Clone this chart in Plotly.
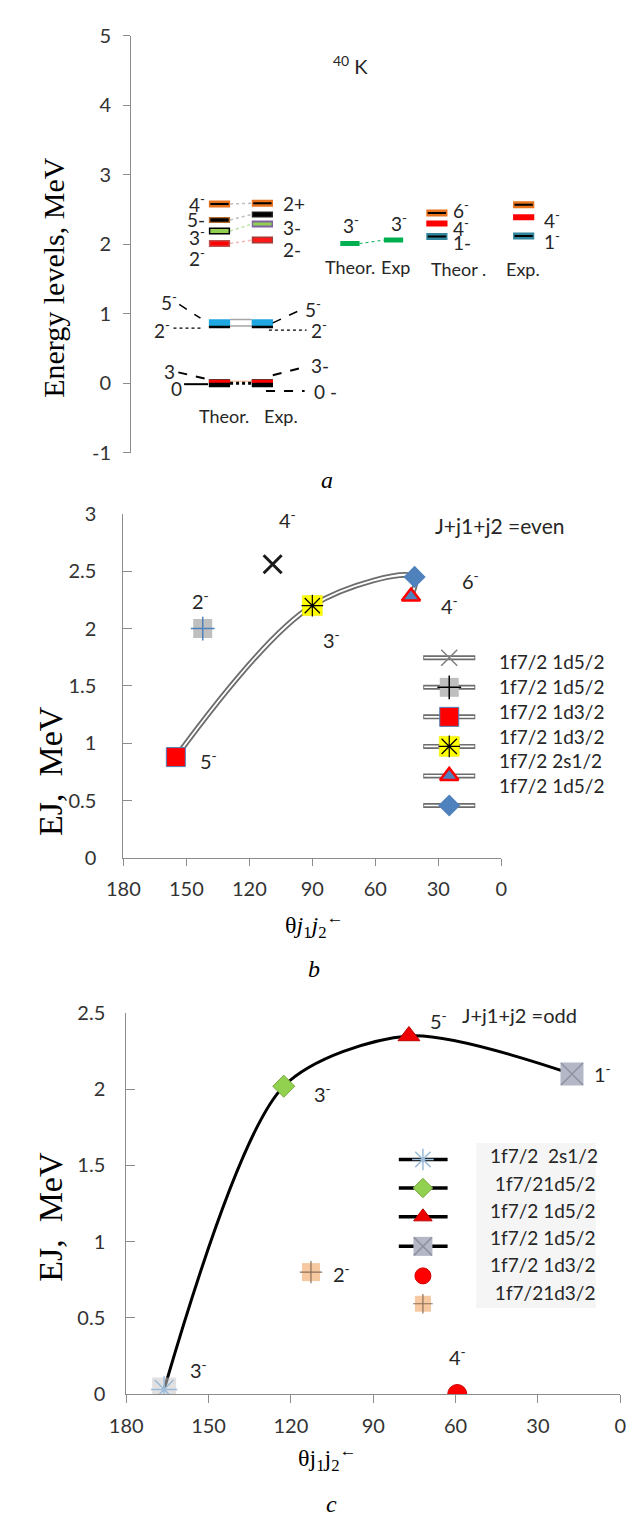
import plotly.graph_objects as go

W, H = 642, 1522
SANS = "Lato"
SERIF = "Liberation Serif"
TXT = "#262626"

# ---------------- DATA ----------------
# Panel a : 40K energy levels (MeV)
a_T1_E = [2.58, 2.35, 2.19, 2.01]          # Theor. (upper group)
a_E1_E = [2.59, 2.43, 2.29, 2.06]          # Exp.   (upper group)
a_T0_E = [0.87, 0.81, 0.00, 0.03]          # Theor. (low-lying)
a_E0_E = [0.87, 0.81, 0.00, 0.03]          # Exp.   (low-lying)
a_T2_E = [2.01]                            # Theor. 3-
a_E2_E = [2.06]                            # Exp 3-
a_T3_E = [2.45, 2.30, 2.11]                # Theor . 6-,4-,1-
a_E3_E = [2.57, 2.39, 2.12]                # Exp.  (?),4-,1-

a_T1_lab = ["4<sup>-</sup>", "5-", "3<sup>-</sup>", "2<sup>-</sup>"]
a_E1_lab = ["2+", "3-", "2-"]
a_T3_lab = ["6<sup>-</sup>", "4<sup>-</sup>", "1-"]
a_E3_lab = ["4<sup>-</sup>", "1<sup>-</sup>"]
a_yticks = [-1, 0, 1, 2, 3, 4, 5]
a_yticklabels = ["-1", "0", "1", "2", "3", "4", "5"]

# Panel b : J+j1+j2 = even
b_names = ["1f7/2 1d5/2", "1f7/2 1d5/2", "1f7/2 1d3/2", "1f7/2 1d3/2", "1f7/2 2s1/2", "1f7/2 1d5/2"]
b_theta = [108.9, 142.2, 155.0, 90.0, 43.0, 41.3]
b_E = [2.56, 2.00, 0.88, 2.20, 2.28, 2.45]
b_J = ["4<sup>-</sup>", "2<sup>-</sup>", "5<sup>-</sup>", "3<sup>-</sup>", "4<sup>-</sup>", "6<sup>-</sup>"]
b_curve_order = [2, 3, 5, 4]

# Panel c : J+j1+j2 = odd
c_names = ["1f7/2  2s1/2", " 1f7/21d5/2", "1f7/2 1d5/2", "1f7/2 1d5/2", "1f7/2 1d3/2", " 1f7/21d3/2"]
c_theta = [166.2, 122.6, 77.0, 17.6, 59.4, 112.7]
c_E = [0.03, 2.02, 2.35, 2.10, 0.00, 0.80]
c_J = ["3<sup>-</sup>", "3<sup>-</sup>", "5<sup>-</sup>", "1<sup>-</sup>", "4<sup>-</sup>", "2<sup>-</sup>"]
c_curve_order = [0, 1, 2, 3]

# ---------------- helpers ----------------
def PX(x):
    return x / W

def PY(y):
    return 1 - y / H

fig = go.Figure()


def seg(x0, x1, y0, y1, color, width, dash="solid", xa="x4", ya="y4"):
    fig.add_trace(go.Scatter(x=[x0, x1], y=[y0, y1], mode="lines",
                             line=dict(color=color, width=width, dash=dash),
                             xaxis=xa, yaxis=ya, showlegend=False, hoverinfo="skip"))


def level(xc, E, outer, ow, inner=None, iw=0, half=11):
    seg(xc - half, xc + half, E, E, outer, ow, xa="x", ya="y")
    if inner:
        seg(xc - half + 1.5, xc + half - 1.5, E, E, inner, iw, xa="x", ya="y")


def ann(x, y, text, size=20, family=SANS, xanchor="center", yanchor="middle",
        color=TXT, angle=0, xref="paper", yref="paper", **kw):
    if xref == "paper":
        x = PX(x)
    if yref == "paper":
        y = PY(y)
    fig.add_annotation(x=x, y=y, xref=xref, yref=yref, text=text, showarrow=False,
                       font=dict(family=family, size=size, color=color),
                       xanchor=xanchor, yanchor=yanchor, textangle=angle, **kw)


# ================= PANEL a =================
colx = dict(T1=201.7, E1=246.2, T2=337.0, E2=382.2, T3=427.2, E3=517.2)
ORANGE = "#e8731f"

conn_cols = ["#bfbfbf", "#bfbfbf", "#b9e3a2", "#f5b5b5"]
for i in range(4):
    seg(colx["T1"] + 11, colx["E1"] - 11, a_T1_E[i], a_E1_E[i], conn_cols[i], 1.5, "dot", "x", "y")
seg(colx["T1"] + 11, colx["E1"] - 11, a_T0_E[0], a_E0_E[0], "#a6a6a6", 8, "solid", "x", "y")
seg(colx["T1"] + 11, colx["E1"] - 11, a_T0_E[0], a_E0_E[0], "#ffffff", 5, "solid", "x", "y")
seg(colx["T1"] + 11, colx["E1"] - 11, a_T0_E[3], a_E0_E[3], "#f8cbad", 1.5, "solid", "x", "y")
seg(colx["T1"] + 11, colx["E1"] - 11, a_T0_E[2], a_E0_E[2], "#000000", 3, "dot", "x", "y")
seg(colx["T2"] + 10, colx["E2"] - 10, a_T2_E[0], a_E2_E[0], "#00b050", 1, "dot", "x", "y")

level(colx["T1"], a_T1_E[0], ORANGE, 7, "#000", 2)
level(colx["T1"], a_T1_E[1], "#b36b2e", 6, "#000", 3.5)
level(colx["T1"], a_T1_E[2], "#000", 7, "#92d050", 4)
level(colx["T1"], a_T1_E[3], "#c0504d", 7, "#ff0000", 4)
level(colx["E1"], a_E1_E[0], ORANGE, 7, "#000", 2)
level(colx["E1"], a_E1_E[1], "#262626", 6, "#000", 4)
level(colx["E1"], a_E1_E[2], "#8064a2", 7, "#92d050", 3)
level(colx["E1"], a_E1_E[3], "#a33a36", 7, "#ff1a1a", 4)
for key, arr in (("T1", a_T0_E), ("E1", a_E0_E)):
    level(colx[key], arr[0], "#1fa7e1", 7)
    level(colx[key], arr[1], "#000", 2.5)
    level(colx[key], arr[2], "#000", 8)
    level(colx[key], arr[3], "#ff0000", 3)
level(colx["T2"], a_T2_E[0], "#00b050", 5, half=10)
level(colx["E2"], a_E2_E[0], "#00b050", 5, half=10)
for key, arr in (("T3", a_T3_E), ("E3", a_E3_E)):
    level(colx[key], arr[0], ORANGE, 7, "#000", 2)
    level(colx[key], arr[1], "#ff0000", 6)
    level(colx[key], arr[2], "#31859c", 7, "#000", 2)

LS = 19
for (y, t) in zip([185, 201.7, 219, 240], a_T1_lab):
    ann(189, y, t, size=LS, xanchor="right")
for (y, t) in zip([185, 210, 231.7], a_E1_lab):
    ann(265, y, t, size=LS, xanchor="left")
for (y, t) in zip([191.7, 210, 225], a_T3_lab):
    ann(442, y, t, size=LS, xanchor="left")
for (y, t) in zip([201.7, 223.3], a_E3_lab):
    ann(536, y, t, size=LS, xanchor="left")
ann(338, 206.7, "3<sup>-</sup>", size=LS)
ann(388, 205, "3<sup>-</sup>", size=LS)
ann(160, 285, "5<sup>-</sup>", size=LS, xanchor="right")
ann(152, 313, "2<sup>-</sup>", size=LS, xanchor="right")
ann(158, 356, "3", size=LS, xanchor="right")
ann(165, 373, "0", size=LS, xanchor="right")
ann(288, 292, "5<sup>-</sup>", size=LS, xanchor="left")
ann(295, 313, "2<sup>-</sup>", size=LS, xanchor="left")
ann(295, 350, "3-", size=LS, xanchor="left")
ann(298, 376, "0 -", size=LS, xanchor="left")
seg(160, 182, 288, 302, "#000", 1.5, "dash")
seg(154, 182, 312, 312, "#000", 1.2, "dot")
seg(159, 190, 357, 364, "#000", 2, "dash")
seg(165, 190, 369, 369, "#000", 2)
seg(257, 287, 306.7, 293, "#000", 1.5, "dash")
seg(253, 292, 314, 314, "#000", 1.2, "dot")
seg(257, 288, 360, 352, "#000", 2, "dash")
seg(250, 290, 376, 376, "#000", 2, "dash")
CS = 18
ann(206.7, 401.7, "Theor.", size=CS)
ann(266, 401.7, "Exp.", size=CS)
ann(337, 250, "Theor.", size=CS)
ann(384, 250, "Exp", size=CS)
ann(450, 251.7, "Theor .", size=CS)
ann(516.7, 251.7, "Exp.", size=CS)
ann(338, 45, "<sup>40</sup> K", size=20)
ann(30, 260, "Energy levels, MeV", size=30, family=SERIF, angle=-90, color="#000")
ann(313, 466, "<i>a</i>", size=24, family=SERIF, color="#000")

# ================= PANEL b =================
bx = [b_theta[i] for i in b_curve_order]
by = [b_E[i] for i in b_curve_order]
fig.add_trace(go.Scatter(x=bx, y=by, mode="lines", line=dict(color="#6d6d6d", width=5.5, shape="spline", smoothing=1.0),
                         xaxis="x2", yaxis="y2", showlegend=False, hoverinfo="skip"))
fig.add_trace(go.Scatter(x=bx, y=by, mode="lines", line=dict(color="#ffffff", width=1.8, shape="spline", smoothing=1.0),
                         xaxis="x2", yaxis="y2", showlegend=False, hoverinfo="skip"))

b_style = [
    [("x-thin-open", 18, "#1a1a1a", "#1a1a1a", 3)],
    [("square", 19, "#bfbfbf", "#bfbfbf", 0), ("cross-thin-open", 17, "#4f81bd", "#4f81bd", 1.5)],
    [("square", 19, "#ff0000", "#4f81bd", 1)],
    [("square", 20, "#ffff00", "#e6e600", 0.5), ("asterisk-open", 18, "#000", "#000", 1.2)],
    [("triangle-up", 16, "#4f81bd", "#ff0000", 2.5)],
    [("diamond", 17, "#4f81bd", "#4f81bd", 0)],
]
b_leg_style = [
    [("x-thin-open", 16, "#7f7f7f", "#7f7f7f", 1.5)],
    [("square", 19, "#bfbfbf", "#bfbfbf", 0), ("cross-thin-open", 17, "#000", "#000", 1.5)],
    [("square", 19, "#ff0000", "#4f81bd", 1)],
    [("square", 20, "#ffff00", "#e6e600", 0.5), ("asterisk-open", 18, "#000", "#000", 1.2)],
    [("triangle-up", 16, "#4f81bd", "#ff0000", 2.5)],
    [("diamond", 17, "#4f81bd", "#4f81bd", 0)],
]


def marker_layers(xs, ys, layers, xa, ya):
    for (sym, sz, col, lc, lw) in layers:
        fig.add_trace(go.Scatter(x=xs, y=ys, mode="markers",
                                 marker=dict(symbol=sym, size=sz, color=col, line=dict(color=lc, width=lw)),
                                 xaxis=xa, yaxis=ya, showlegend=False, hoverinfo="skip"))


for i in range(6):
    marker_layers([b_theta[i]], [b_E[i]], b_style[i], "x2", "y2")

b_off = [(15, 45), (-2, 29), (33, -3), (19, -33), (38, -9), (56, -3)]
for i in range(6):
    ann(b_theta[i], b_E[i], b_J[i], xref="x2", yref="y2", xshift=b_off[i][0], yshift=b_off[i][1])

b_leg_y0, b_leg_dy = 647, 30
b_txt_y0, b_txt_dy = 651, 25.2
for i in range(6):
    yy = b_leg_y0 + i * b_leg_dy
    seg(413, 467, yy, yy, "#6d6d6d", 5)
    seg(414, 466, yy, yy, "#ffffff", 1.6)
    marker_layers([440], [yy], b_leg_style[i], "x4", "y4")
    ann(490, b_txt_y0 + i * b_txt_dy, b_names[i], size=19, xanchor="left")

ann(492, 513, "J+j1+j2 =even", size=21)
ann(27, 762, "EJ,\u00a0\u00a0MeV", size=34, family=SERIF, angle=-90, color="#000")
ann(300, 918, "θ<i>j</i><sub>1</sub><i>j</i><sub>2</sub><sup>←</sup>", size=24, family=SERIF, color="#000")
ann(300, 963, "<i>b</i>", size=24, family=SERIF, color="#000")

# ================= PANEL c =================
cx = [c_theta[i] for i in c_curve_order]
cy = [c_E[i] for i in c_curve_order]

c_style = [
    [("square", 24, "rgba(200,200,200,0.55)", "rgba(0,0,0,0)", 0), ("asterisk-open", 22, "#9bbbd9", "#9bbbd9", 1.5)],
    [("diamond", 17, "#92d050", "#7aa83f", 1)],
    [("triangle-up", 19, "#ee0000", "#c00000", 1)],
    [("square", 23, "#b4b8c6", "#b4b8c6", 0), ("x-thin-open", 22, "#8d92a3", "#8d92a3", 1.5)],
    [("circle", 19, "#ff0000", "#d00000", 1)],
    [("square", 18, "#f7c9a0", "#f7c9a0", 0), ("cross-thin-open", 16, "#8b6f5a", "#8b6f5a", 1.2)],
]
c_leg_style = [
    [("asterisk-open", 18, "#9bbbd9", "#9bbbd9", 1.5)],
    [("diamond", 15, "#92d050", "#7aa83f", 1)],
    [("triangle-up", 16, "#ee0000", "#c00000", 1)],
    [("square", 19, "#b4b8c6", "#b4b8c6", 0), ("x-thin-open", 18, "#8d92a3", "#8d92a3", 1.5)],
    [("circle", 16, "#ff0000", "#d00000", 1)],
    [("square", 16, "#f7c9a0", "#f7c9a0", 0), ("cross-thin-open", 14, "#8b6f5a", "#8b6f5a", 1.2)],
]

fig.add_shape(type="rect", xref="paper", yref="paper", x0=PX(468), x1=PX(592), y0=PY(1140), y1=PY(1308),
              fillcolor="#f5f5f5", line=dict(width=0), layer="below")

fig.add_trace(go.Scatter(x=cx, y=cy, mode="lines", line=dict(color="#000", width=3, shape="spline", smoothing=0.8),
                         xaxis="x3", yaxis="y3", showlegend=False, hoverinfo="skip"))
for i in range(6):
    marker_layers([c_theta[i]], [c_E[i]], c_style[i], "x3", "y3")

c_off = [(34, 20), (39, -7), (30, 16), (31, 1), (0, 38), (31, -1)]
for i in range(6):
    ann(c_theta[i], c_E[i], c_J[i], xref="x3", yref="y3", xshift=c_off[i][0], yshift=c_off[i][1])

c_leg_y = [1156.7, 1185.7, 1215, 1245, 1275, 1303.3]
c_txt_y0, c_txt_dy = 1153, 27.7
for i in range(6):
    yy = c_leg_y[i]
    if i < 4:
        seg(387.7, 438.3, yy, yy, "#000", 3.5)
    marker_layers([412.7], [yy], c_leg_style[i], "x4", "y4")
    ann(480, c_txt_y0 + i * c_txt_dy, c_names[i], size=19, xanchor="left")

ann(513, 1010, "J+j1+j2 =odd", size=20)
ann(27, 1215, "EJ,\u00a0\u00a0MeV", size=34, family=SERIF, angle=-90, color="#000")
ann(313, 1460, "θj<sub>1</sub>j<sub>2</sub><sup>←</sup>", size=24, family=SERIF, color="#000")
ann(318, 1507, "<i>c</i>", size=24, family=SERIF, color="#000")

# ================= AXES =================
tickfont = dict(family=SANS, size=20, color="#333333")
axline = "#8c8c8c"
fig.update_layout(
    width=W, height=H, margin=dict(l=0, r=0, t=0, b=0),
    paper_bgcolor="white", plot_bgcolor="rgba(0,0,0,0)", showlegend=False,
    xaxis=dict(domain=[PX(110), 1], range=[110, W], visible=False, fixedrange=True),
    yaxis=dict(domain=[PY(438.7), PY(15)], range=[-1, 5], tickvals=a_yticks, ticktext=a_yticklabels, anchor="x",
               showline=True, linecolor=axline, linewidth=1, ticks="outside", ticklen=7, tickcolor=axline,
               showgrid=False, zeroline=False, tickfont=tickfont, ticklabelstandoff=8),
    xaxis2=dict(domain=[PX(102), PX(494)], range=[180, 0], dtick=30, anchor="y2",
                showline=True, linecolor=axline, ticks="outside", ticklen=7, tickcolor=axline,
                showgrid=False, zeroline=False, tickfont=tickfont, ticklabelstandoff=6),
    yaxis2=dict(domain=[PY(850.5), PY(500.7)], range=[0, 3], dtick=0.5, anchor="x2",
                showline=True, linecolor=axline, ticks="inside", ticklen=9, tickcolor=axline,
                showgrid=False, zeroline=False, tickfont=tickfont, ticklabelstandoff=22),
    xaxis3=dict(domain=[PX(105), PX(617.4)], range=[180, 0], dtick=30, anchor="y3",
                showline=True, linecolor=axline, ticks="outside", ticklen=8, tickcolor=axline,
                showgrid=False, zeroline=False, tickfont=tickfont, ticklabelstandoff=6),
    yaxis3=dict(domain=[PY(1395), PY(1008)], range=[0, 2.5], dtick=0.5, anchor="x3",
                showline=True, linecolor=axline, ticks="inside", ticklen=9, tickcolor=axline,
                showgrid=False, zeroline=False, tickfont=tickfont, ticklabelstandoff=16),
    xaxis4=dict(domain=[0, 1], range=[0, W], visible=False, fixedrange=True, anchor="y4"),
    yaxis4=dict(domain=[0, 1], range=[H, 0], visible=False, fixedrange=True, anchor="x4"),
)

fig.write_html("out.html")
